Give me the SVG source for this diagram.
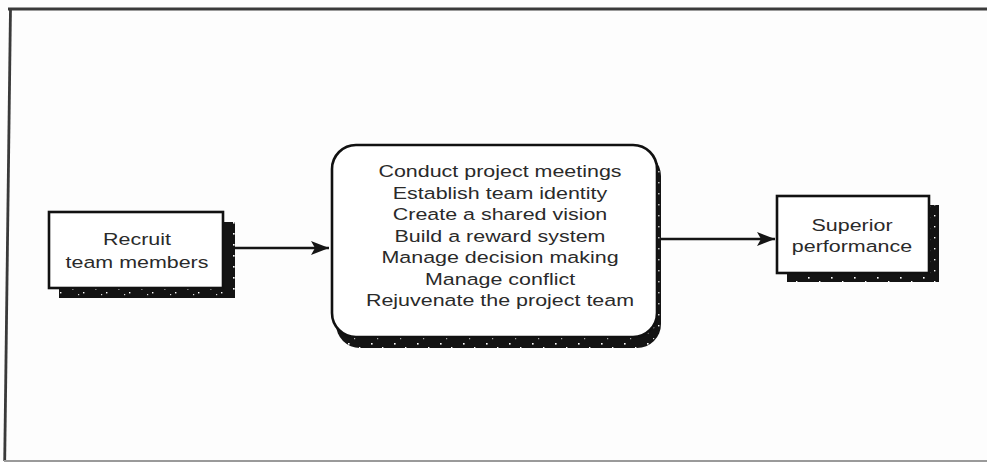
<svg xmlns="http://www.w3.org/2000/svg" width="987" height="462" viewBox="0 0 987 462">
  <style>
    .box { fill: #ffffff; stroke: #111111; stroke-width: 2.6; }
    .shadow { fill: url(#speckle); }
    .label { font-family: "Liberation Sans", Arial, sans-serif; font-size: 16.5px; fill: #2a2a2a; text-anchor: middle; }
    .link { stroke: #151515; stroke-width: 2.6; fill: none; marker-end: url(#head); }
    .frame { stroke: #3a3a3a; stroke-width: 2.8; fill: none; }
  </style>
  <defs>
    <!-- dark stippled fill used for the drop shadows -->
    <pattern id="speckle" width="23" height="11" patternUnits="userSpaceOnUse">
      <rect width="23" height="11" fill="#141414"/>
      <rect x="3" y="2" width="1.6" height="1.6" fill="#ffffff"/>
      <rect x="14" y="6" width="1.4" height="1.4" fill="#ffffff"/>
      <rect x="9" y="8" width="1.2" height="1.2" fill="#dddddd"/>
    </pattern>
    <marker id="head" markerUnits="userSpaceOnUse" markerWidth="18" markerHeight="14" refX="18" refY="7" orient="auto">
      <path d="M0,0 L18,7 L0,14 L4,7 z" fill="#151515"/>
    </marker>
  </defs>

  <!-- page -->
  <rect width="987" height="462" fill="#fdfdfd"/>

  <!-- outer frame -->
  <g id="frame">
    <line class="frame" x1="8" y1="9" x2="987" y2="9"/>
    <line class="frame" x1="10.5" y1="8" x2="4.7" y2="461"/>
    <line x1="4" y1="461" x2="987" y2="461" stroke="#9a9a9a" stroke-width="2"/>
  </g>

  <!-- connectors -->
  <g id="connectors">
    <line class="link" x1="235" y1="248" x2="329" y2="248"/>
    <line class="link" x1="660" y1="239" x2="775" y2="239"/>
  </g>

  <g id="recruit">
    <rect class="shadow" x="59" y="222" width="176" height="76"/>
    <rect class="box" x="49" y="212" width="174" height="76"/>
    <g transform="translate(137 0) scale(1.3 1)">
      <text class="label" x="0" y="245">Recruit</text>
      <text class="label" x="0" y="268">team members</text>
    </g>
  </g>

  <g id="activities">
    <rect class="shadow" x="336" y="152" width="325" height="196" rx="24"/>
    <rect class="box" x="332" y="145" width="325" height="192" rx="24"/>
    <g transform="translate(500 0) scale(1.3 1)">
      <text class="label" x="0" y="177.5">Conduct project meetings</text>
      <text class="label" x="0" y="199">Establish team identity</text>
      <text class="label" x="0" y="220.5">Create a shared vision</text>
      <text class="label" x="0" y="242">Build a reward system</text>
      <text class="label" x="0" y="263.5">Manage decision making</text>
      <text class="label" x="0" y="285">Manage conflict</text>
      <text class="label" x="0" y="306.5">Rejuvenate the project team</text>
    </g>
  </g>

  <g id="performance">
    <rect class="shadow" x="787" y="205" width="152" height="77"/>
    <rect class="box" x="777" y="196" width="152" height="77"/>
    <g transform="translate(852 0) scale(1.3 1)">
      <text class="label" x="0" y="231">Superior</text>
      <text class="label" x="0" y="252">performance</text>
    </g>
  </g>
</svg>
